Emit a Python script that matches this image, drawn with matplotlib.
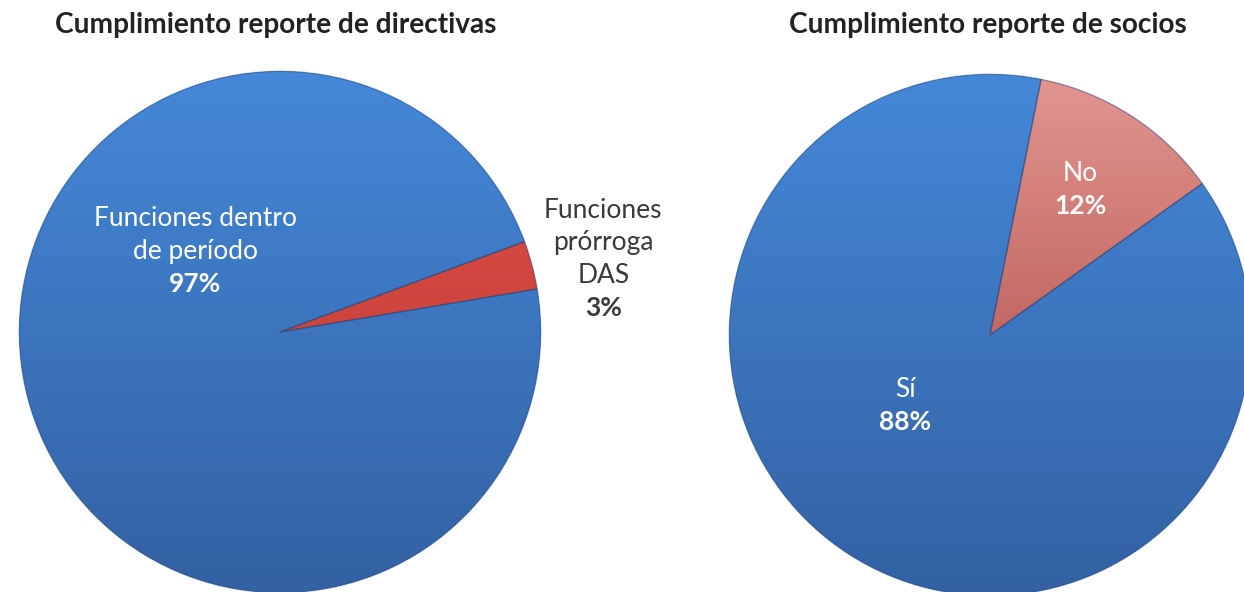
import numpy as np
import matplotlib
matplotlib.use("Agg")
import matplotlib.pyplot as plt
from matplotlib.colors import LinearSegmentedColormap
from matplotlib.patches import Wedge

plt.rcParams['font.family'] = ['Lato', 'DejaVu Sans']

# left chart
left_title = "Cumplimiento reporte de directivas"
left_labels = ["Funciones dentro\nde período", "Funciones\nprórroga\nDAS"]
left_values = [97, 3]

# right chart
right_title = "Cumplimiento reporte de socios"
right_labels = ["Sí", "No"]
right_values = [88, 12]

BLUE = ("#4588D8", "#3361A3")
RED_LEFT = ("#E4524B", "#B5352F")
RED_RIGHT = ("#E39590", "#A03B36")
DARK = "#3a3a3a"


def shade_wedge(ax, wedge, top, bottom):
    cmap = LinearSegmentedColormap.from_list("g", [top, bottom])
    grad = np.linspace(0, 1, 256).reshape(-1, 1)
    im = ax.imshow(grad, cmap=cmap, extent=(-1, 1, -1, 1), origin="upper",
                   aspect="auto", zorder=2)
    im.set_clip_path(wedge)


def put_label(ax, x, y, name, pct, color, size=19, step=23.4):
    lines = name.split("\n") + [pct]
    n = len(lines)
    for i, line in enumerate(lines):
        off = ((n - 1) / 2 - i) * step
        ax.annotate(line, (x, y), xytext=(0, off), textcoords="offset points",
                    ha="center", va="center", color=color, fontsize=size,
                    fontweight="bold" if i == n - 1 else "normal",
                    annotation_clip=False, zorder=5)


def draw_pie(rect, values, startangle, colors):
    ax = fig.add_axes(rect)
    wedges, _ = ax.pie(values, startangle=startangle, counterclock=False,
                       radius=1, colors=[c[0] for c in colors],
                       wedgeprops=dict(linewidth=0))
    for w, c in zip(wedges, colors):
        shade_wedge(ax, w, c[0], c[1])
        w.set_zorder(1)
    # soft rim / seam lines
    for w in wedges:
        ax.add_patch(Wedge(w.center, w.r, w.theta1, w.theta2, fill=False,
                           edgecolor="#23467a", linewidth=1.0, alpha=0.45,
                           zorder=3))
    ax.set_xlim(-1.005, 1.005)
    ax.set_ylim(-1.005, 1.005)
    ax.set_aspect("equal")
    ax.axis("off")
    return ax


fig = plt.figure(figsize=(12.44, 5.92), dpi=100)

W, H = 1244, 592
r = 262

# left pie
axl = draw_pie([(280 - r) / W, (H - 332 - r) / H, 2 * r / W, 2 * r / H],
               left_values, 9.5, [BLUE, RED_LEFT])
put_label(axl, -0.325, 0.31, left_labels[0], f"{left_values[0]}%", "white")
put_label(axl, 1.24, 0.28, left_labels[1], f"{left_values[1]}%", DARK)

# right pie
axr = draw_pie([(990 - r) / W, (H - 335 - r) / H, 2 * r / W, 2 * r / H],
               right_values, 35.5, [BLUE, RED_RIGHT])
put_label(axr, -0.325, -0.27, right_labels[0], f"{right_values[0]}%", "white")
put_label(axr, 0.347, 0.557, right_labels[1], f"{right_values[1]}%", "white")

fig.text(276 / W, 1 - 25 / H, left_title, ha="center", va="center",
         fontsize=20.2, fontweight="bold", color="#222222")
fig.text(988 / W, 1 - 25 / H, right_title, ha="center", va="center",
         fontsize=20.2, fontweight="bold", color="#222222")

fig.savefig("out.png", dpi=100)
